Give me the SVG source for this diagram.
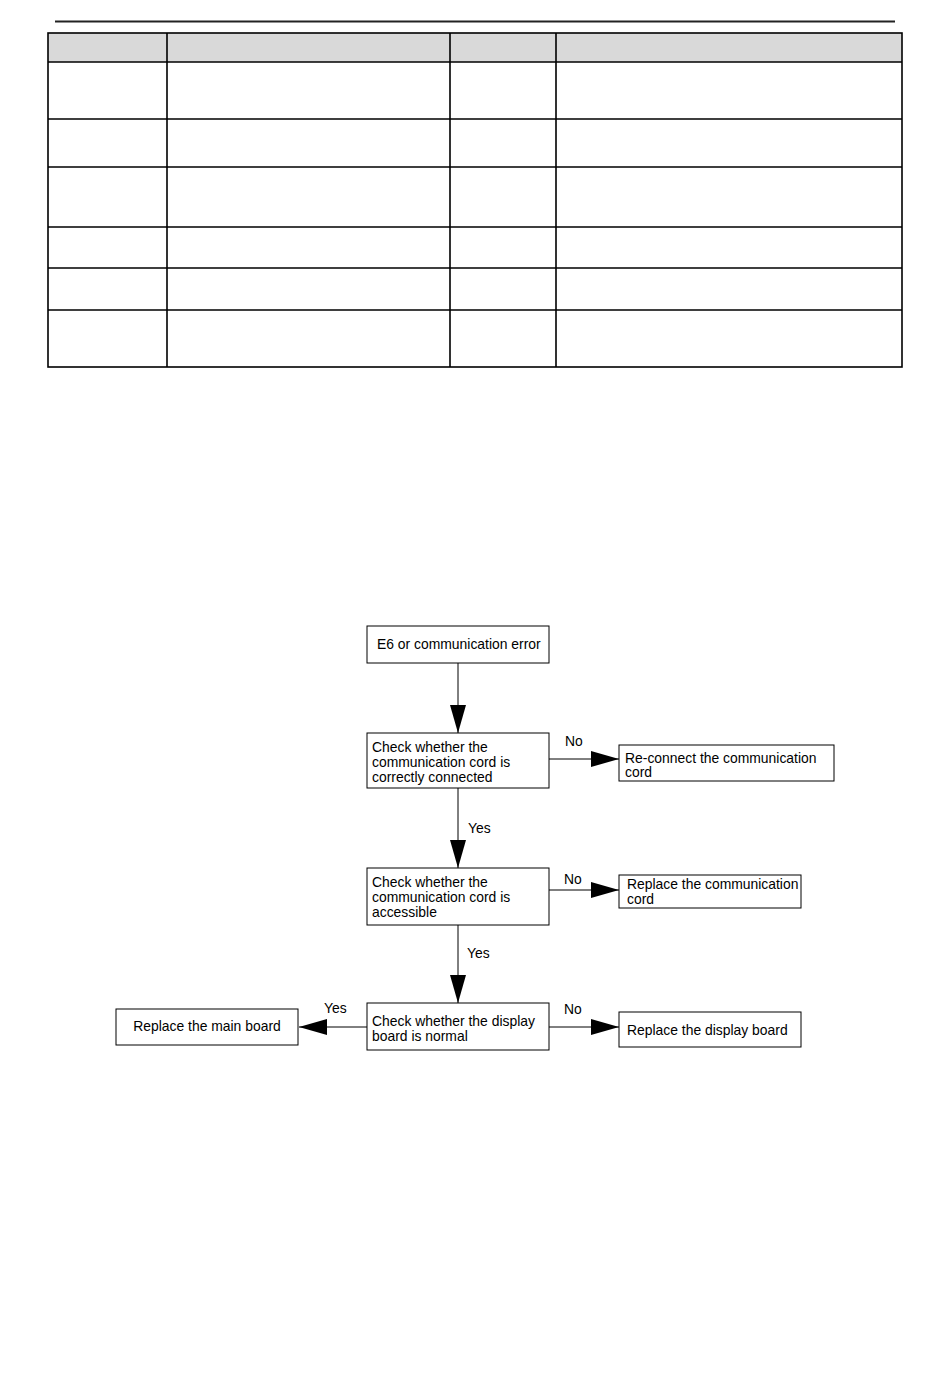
<svg xmlns="http://www.w3.org/2000/svg" width="950" height="1379" viewBox="0 0 950 1379">
<style>
.t{font-family:"Liberation Sans",Arial,sans-serif;font-size:13.9px;fill:#000}
.b{fill:#fff;stroke:#000;stroke-width:1}
.c{stroke:#000;stroke-width:1;fill:none}
.g{stroke:#000;stroke-width:1.6;fill:none}
</style>
<defs>
<marker id="ah" markerWidth="28" markerHeight="16" refX="28" refY="8" orient="auto" markerUnits="userSpaceOnUse">
<path d="M0,0 L28,8 L0,16 Z" fill="#000"/>
</marker>
</defs>
<rect width="950" height="1379" fill="#fff"/>
<g id="header-rule">
<line x1="55" y1="21.5" x2="895" y2="21.5" stroke="#222" stroke-width="1.8"/>
</g>
<g id="table">
<rect x="48" y="33" width="854" height="29" fill="#d9d9d9"/>
<rect x="48" y="33" width="854" height="334" class="g"/>
<path class="g" d="M48,62H902M48,119H902M48,167H902M48,227H902M48,268H902M48,310H902M167,33V367M450,33V367M556,33V367"/>
</g>
<g id="connectors">
<line class="c" x1="458" y1="663" x2="458" y2="733" marker-end="url(#ah)"/>
<line class="c" x1="549" y1="759" x2="619" y2="759" marker-end="url(#ah)"/>
<line class="c" x1="458" y1="788" x2="458" y2="868" marker-end="url(#ah)"/>
<line class="c" x1="549" y1="890" x2="619" y2="890" marker-end="url(#ah)"/>
<line class="c" x1="458" y1="925" x2="458" y2="1003" marker-end="url(#ah)"/>
<line class="c" x1="367" y1="1027" x2="299" y2="1027" marker-end="url(#ah)"/>
<line class="c" x1="549" y1="1027" x2="619" y2="1027" marker-end="url(#ah)"/>
<text class="t" x="565" y="746">No</text>
<text class="t" x="468" y="833">Yes</text>
<text class="t" x="564" y="884">No</text>
<text class="t" x="467" y="958">Yes</text>
<text class="t" x="324" y="1013">Yes</text>
<text class="t" x="564" y="1014">No</text>
</g>
<g id="n1">
<rect class="b" x="367" y="626" width="182" height="37"/>
<text class="t" x="377" y="649">E6 or communication error</text>
</g>
<g id="n2">
<rect class="b" x="367" y="733" width="182" height="55"/>
<text class="t" x="372" y="752">Check whether the</text>
<text class="t" x="372" y="767">communication cord is</text>
<text class="t" x="372" y="782">correctly connected</text>
</g>
<g id="n3">
<rect class="b" x="619" y="745" width="215" height="36"/>
<text class="t" x="625" y="763">Re-connect the communication</text>
<text class="t" x="625" y="777">cord</text>
</g>
<g id="n4">
<rect class="b" x="367" y="868" width="182" height="57"/>
<text class="t" x="372" y="887">Check whether the</text>
<text class="t" x="372" y="902">communication cord is</text>
<text class="t" x="372" y="917">accessible</text>
</g>
<g id="n5">
<rect class="b" x="619" y="875" width="182" height="33"/>
<text class="t" x="627" y="889">Replace the communication</text>
<text class="t" x="627" y="904">cord</text>
</g>
<g id="n6">
<rect class="b" x="367" y="1003" width="182" height="47"/>
<text class="t" x="372" y="1026">Check whether the display</text>
<text class="t" x="372" y="1041">board is normal</text>
</g>
<g id="n7">
<rect class="b" x="116" y="1009" width="182" height="36"/>
<text class="t" x="207" y="1031" text-anchor="middle">Replace the main board</text>
</g>
<g id="n8">
<rect class="b" x="619" y="1012" width="182" height="35"/>
<text class="t" x="627" y="1035">Replace the display board</text>
</g>
</svg>
